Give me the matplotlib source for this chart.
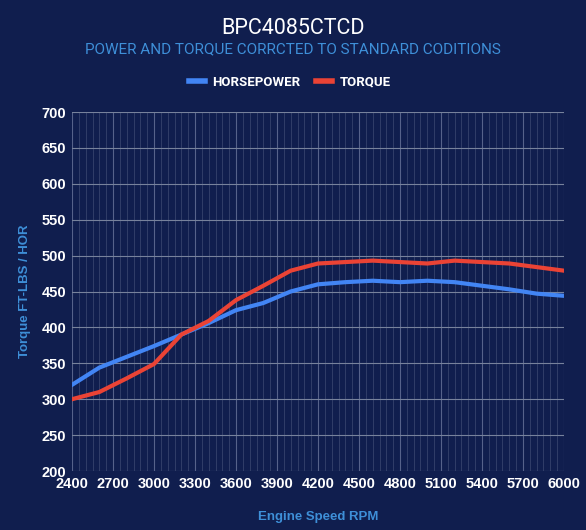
import matplotlib
matplotlib.use("Agg")
import matplotlib.pyplot as plt
from matplotlib.ticker import MultipleLocator

# engine speed and dyno readings
rpm = [2400, 2600, 2800, 3000, 3200, 3400, 3600, 3800, 4000, 4200,
       4400, 4600, 4800, 5000, 5200, 5400, 5600, 5800, 6000]
horsepower = [320, 344, 359, 374, 390, 406, 424, 434, 450, 460,
              463, 465, 463, 465, 463, 458, 453, 447, 444]
torque = [300, 310, 329, 349, 390, 409, 438, 458, 479, 489,
          491, 493, 491, 489, 493, 491, 489, 484, 479]

bg = "#101e4e"
label_blue = "#3e8fd8"

plt.rcParams['font.family'] = ['Liberation Sans', 'DejaVu Sans']

fig = plt.figure(figsize=(5.86, 5.30), dpi=100, facecolor=bg)
ax = fig.add_axes([72 / 586, 1 - 471 / 530, 492 / 586, 359 / 530])
ax.set_facecolor(bg)

ax.plot(rpm, horsepower, color="#4285f4", lw=3, label="HORSEPOWER", zorder=3)
ax.plot(rpm, torque, color="#ea4335", lw=3, label="TORQUE", zorder=4)

ax.set_xlim(2400, 6000)
ax.set_ylim(200, 700)
ax.xaxis.set_major_locator(MultipleLocator(300))
ax.xaxis.set_minor_locator(MultipleLocator(50))
ax.yaxis.set_major_locator(MultipleLocator(50))

ax.grid(which="major", axis="y", color="#77829c", lw=0.8)
ax.grid(which="major", axis="x", color="#56628a", lw=0.8)
ax.grid(which="minor", axis="x", color="#36436c", lw=0.6)
ax.set_axisbelow(True)
for s in ax.spines.values():
    s.set_visible(False)
ax.tick_params(which="both", length=0, colors="white", labelsize=10.5, pad=4)
for t in ax.get_xticklabels() + ax.get_yticklabels():
    t.set_fontweight("bold")

ax.set_xlabel("Engine Speed RPM", color=label_blue, fontsize=9.5, fontweight="bold", labelpad=15)
ax.set_ylabel("Torque FT-LBS / HOR", color=label_blue, fontsize=9.5, fontweight="bold", labelpad=8)

fig.text(0.5, 1 - 28 / 530, "BPC4085CTCD", color="white", fontsize=15.5,
         ha="center", va="center", family=["Roboto", "DejaVu Sans"])
fig.text(0.5, 1 - 49 / 530, "POWER AND TORQUE CORRCTED TO STANDARD CODITIONS",
         color=label_blue, fontsize=11, ha="center", va="center", family=["Roboto", "DejaVu Sans"])

leg = fig.legend(loc="center", bbox_to_anchor=(0.495, 1 - 82 / 530), ncol=2, frameon=False,
                 handlelength=1.2, handletextpad=0.6, columnspacing=1.2,
                 prop={"size": 9.5, "weight": "bold", "family": ["Roboto", "DejaVu Sans"]})
for t in leg.get_texts():
    t.set_color("white")
for h in leg.legend_handles:
    h.set_linewidth(4)

fig.savefig("out.png", dpi=100, facecolor=bg)
